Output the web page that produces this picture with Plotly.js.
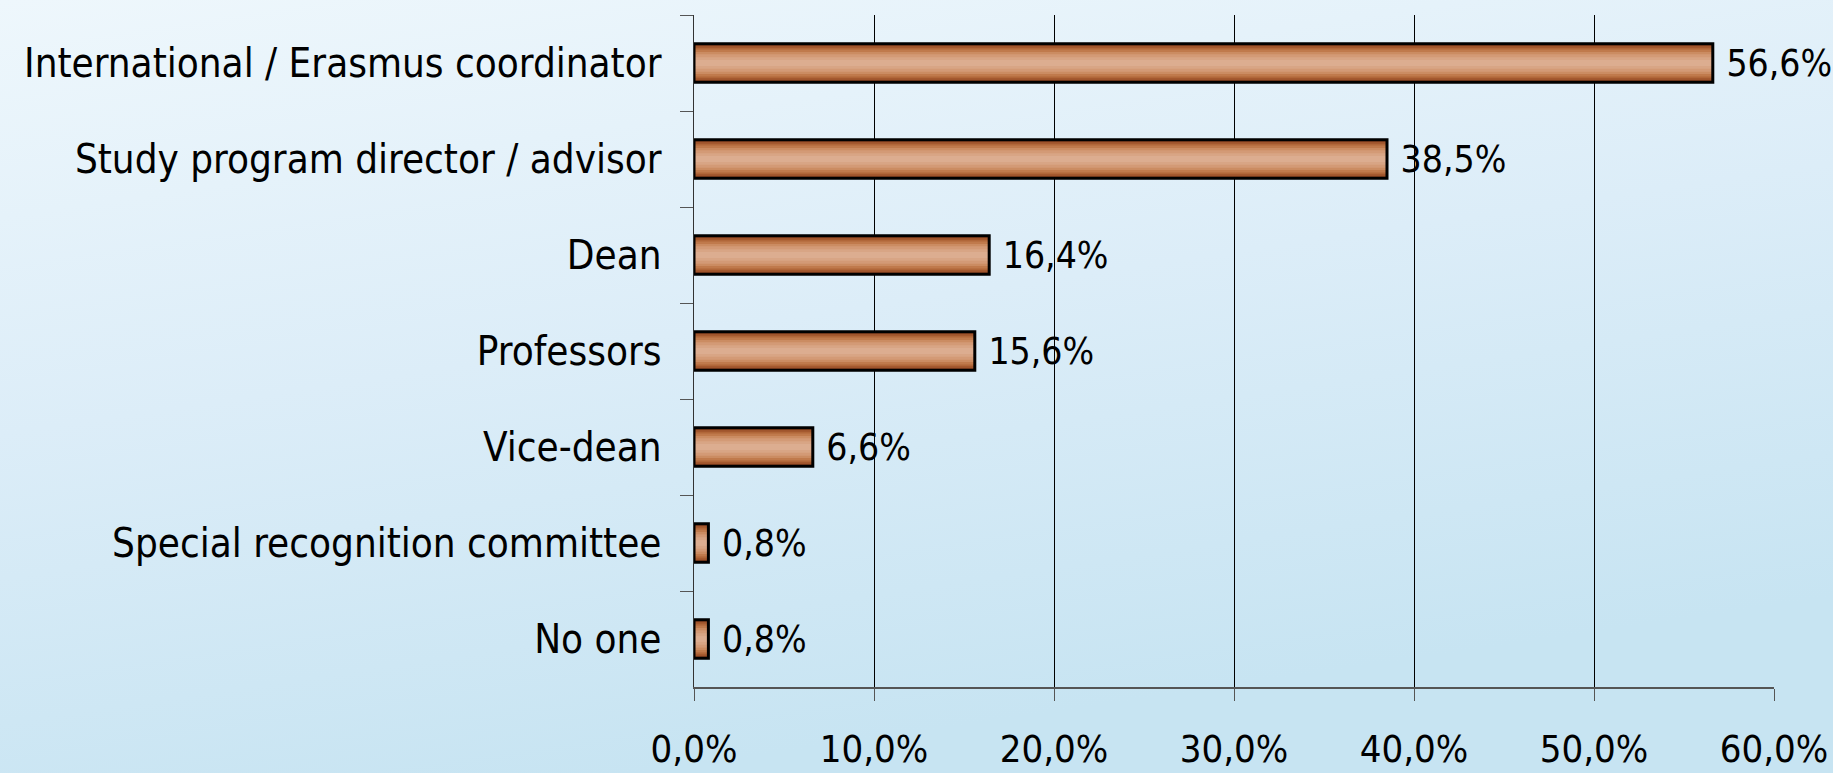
<!DOCTYPE html>
<html>
<head>
<meta charset="utf-8">
<script src="https://cdn.plot.ly/plotly-3.0.1.min.js"></script>
<style>
  html, body { margin: 0; padding: 0; background: #dcedf7; }
  #chart { width: 1833px; height: 773px; }
</style>
</head>
<body>
<div id="chart"></div>
<script>
// ---- data ----
const categories = [
  "International / Erasmus coordinator",
  "Study program director / advisor",
  "Dean",
  "Professors",
  "Vice-dean",
  "Special recognition committee",
  "No one"
];
const values = [56.6, 38.5, 16.4, 15.6, 6.6, 0.8, 0.8];
const xTickValues = [0, 10, 20, 30, 40, 50, 60];
const xTickLabels = ["0,0%", "10,0%", "20,0%", "30,0%", "40,0%", "50,0%", "60,0%"];

// ---- style ----
const FONT = "DejaVu Sans Condensed, Liberation Sans Narrow, sans-serif";
const FS = 40;
const gradientSteps = [
  {w: 0.40, c: "#8f4621"},
  {w: 0.36, c: "#a0552c"},
  {w: 0.32, c: "#b16739"},
  {w: 0.28, c: "#c07a4c"},
  {w: 0.23, c: "#cb8c62"},
  {w: 0.18, c: "#d39a76"},
  {w: 0.12, c: "#d8a585"},
  {w: 0.06, c: "#dcad90"}
];

const traces = gradientSteps.map((s) => ({
  type: "bar",
  orientation: "h",
  x: values,
  y: categories,
  width: s.w,
  marker: {color: s.c, line: {width: 0}},
  hoverinfo: "skip",
  showlegend: false
}));
// outline + labels on top
traces.push({
  type: "bar",
  orientation: "h",
  x: values,
  y: categories,
  width: 0.40,
  marker: {color: "rgba(0,0,0,0)", line: {color: "#000000", width: 3}},
  texttemplate: "\u00a0%{x:.1f}%",
  textposition: "outside",
  constraintext: "none",
  cliponaxis: false,
  outsidetextfont: {family: FONT, size: 37, color: "#000000"},
  showlegend: false
});

const bgSvg = '<svg xmlns="http://www.w3.org/2000/svg" width="1833" height="773">' +
  '<defs><linearGradient id="g" x1="0" y1="0" x2="0.35" y2="1">' +
  '<stop offset="0" stop-color="#eef7fc"/><stop offset="0.5" stop-color="#dcedf8"/>' +
  '<stop offset="1" stop-color="#c7e4f2"/></linearGradient></defs>' +
  '<rect width="1833" height="773" fill="url(#g)"/></svg>';

const layout = {
  width: 1833,
  height: 773,
  margin: {l: 694, r: 59, t: 15, b: 86, pad: 0},
  paper_bgcolor: "#dcedf7",
  plot_bgcolor: "rgba(0,0,0,0)",
  separators: ",.",
  barmode: "overlay",
  font: {family: FONT, size: FS, color: "#000000"},
  images: [{
    source: "data:image/svg+xml;charset=utf-8," + encodeURIComponent(bgSvg),
    xref: "paper", yref: "paper", x: -694/1080, y: 1 + 15/672,
    sizex: 1833/1080, sizey: 773/672, sizing: "stretch",
    xanchor: "left", yanchor: "top", layer: "below"
  }],
  xaxis: {
    range: [0, 60],
    tickmode: "array",
    tickvals: xTickValues,
    ticktext: xTickLabels,
    showgrid: true,
    gridcolor: "#000000",
    gridwidth: 1,
    zeroline: false,
    showline: true,
    linecolor: "#555555",
    linewidth: 1.5,
    ticks: "outside",
    ticklen: 12,
    tickcolor: "#555555",
    ticklabelstandoff: 16,
    tickfont: {family: FONT, size: 38, color: "#000000"},
    fixedrange: true
  },
  yaxis: {
    type: "category",
    autorange: "reversed",
    showgrid: false,
    zeroline: false,
    showline: true,
    linecolor: "#333333",
    linewidth: 1.5,
    ticks: "outside",
    tickson: "boundaries",
    ticklen: 13,
    tickcolor: "#555555",
    ticklabelstandoff: 23,
    tickfont: {family: FONT, size: FS, color: "#000000"},
    fixedrange: true
  }
};

Plotly.newPlot("chart", traces, layout, {displayModeBar: false, staticPlot: true});
</script>
</body>
</html>
